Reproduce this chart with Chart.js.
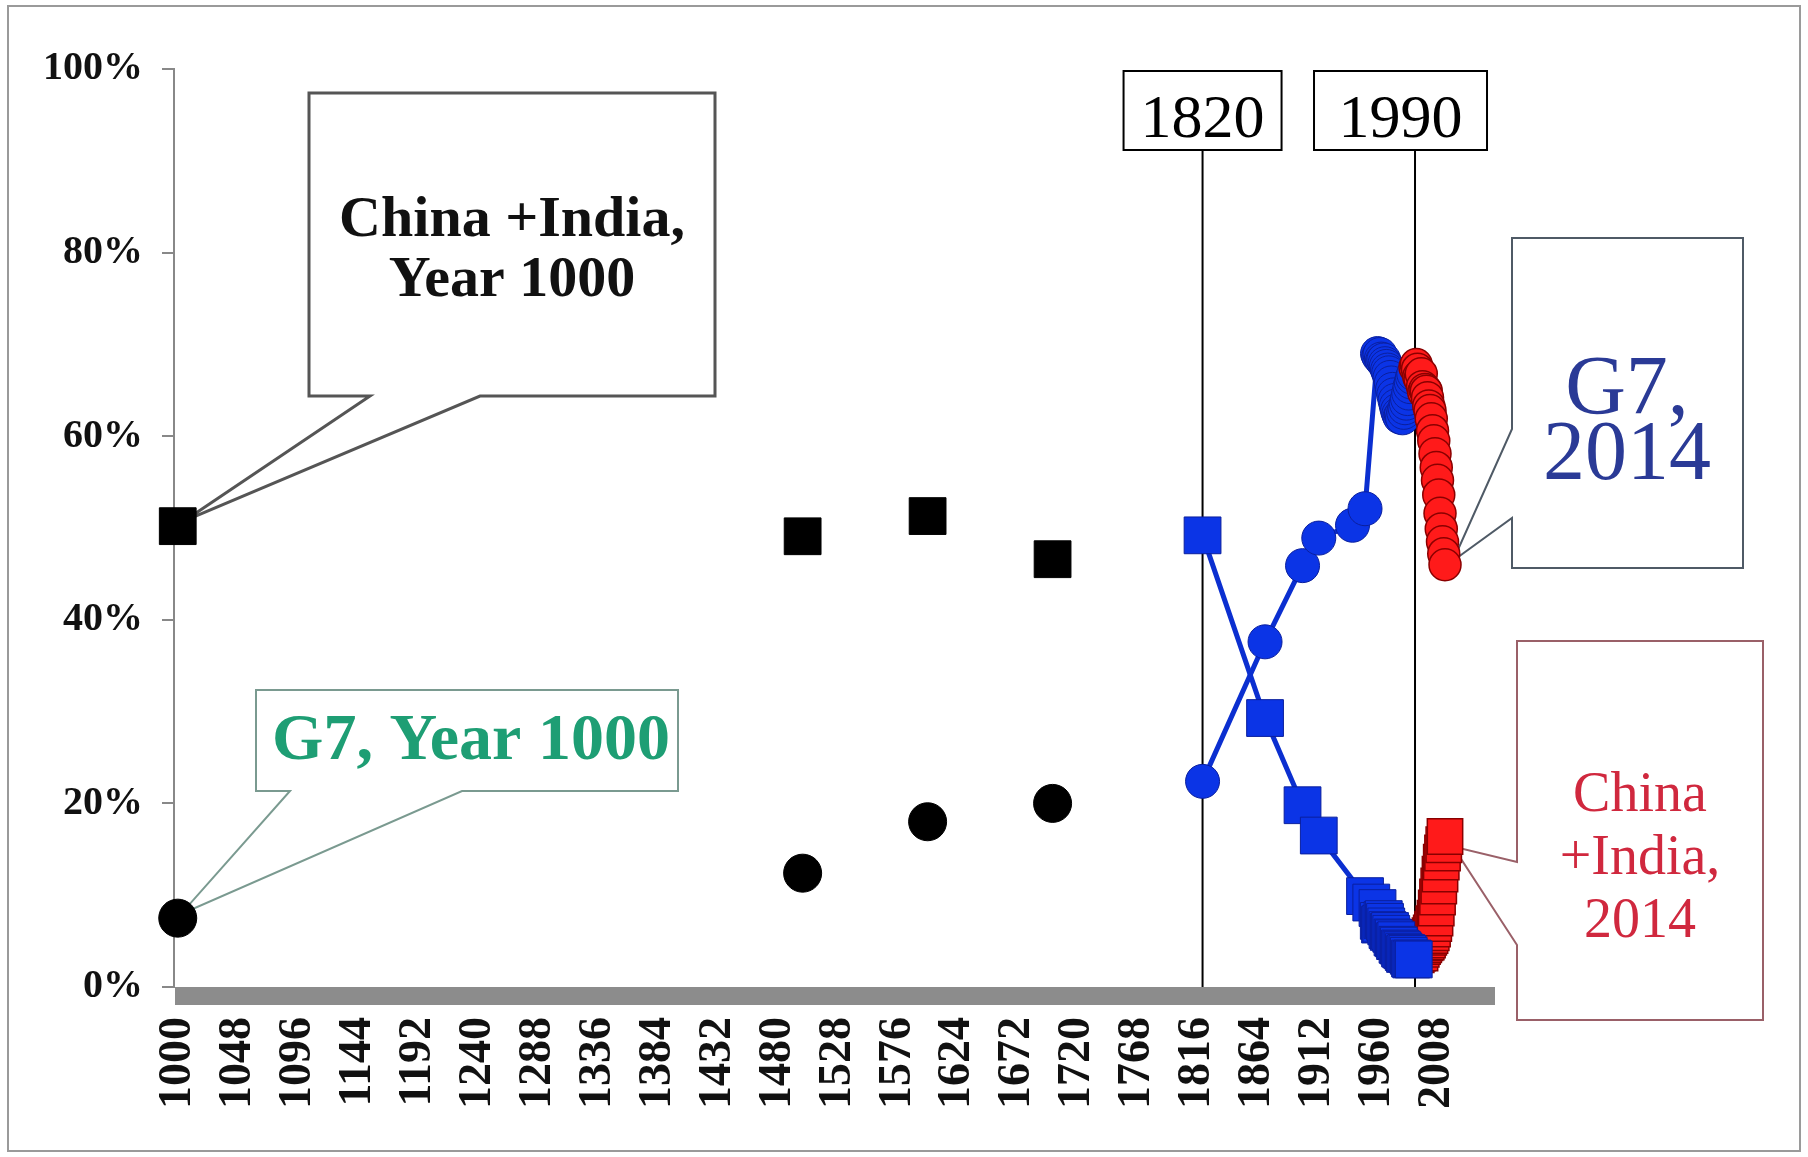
<!DOCTYPE html>
<html>
<head>
<meta charset="utf-8">
<title>G7 and China + India, share of world GDP, 1000-2014</title>
<script src="https://cdn.jsdelivr.net/npm/chart.js@4.4.1/dist/chart.umd.min.js"></script>
<style>
  html, body { margin: 0; padding: 0; background: #fff; overflow: hidden; }
  canvas { display: block; }
</style>
</head>
<body>
<canvas id="share-chart" width="1808" height="1157"></canvas>
<script>
// share of world GDP in %
const earlyYears = [1000, 1500, 1600, 1700];
const earlyChinaIndia = [50.2, 49.1, 51.3, 46.6];
const earlyG7 = [7.5, 12.4, 18.0, 20.0];

const midChinaIndiaYears = [1820, 1870, 1900, 1913, 1950, 1955,
  1960, 1961, 1962, 1963, 1964, 1965, 1966, 1967, 1968, 1969,
  1970, 1971, 1972, 1973, 1974, 1975, 1976, 1977, 1978, 1979,
  1980, 1981, 1982, 1983, 1984, 1985, 1986, 1987, 1988, 1989];
const midChinaIndia = [49.2, 29.3, 19.8, 16.5, 9.9, 9.2,
  8.6, 7.2, 6.8, 6.9, 7.3, 7.4, 7.1, 6.6, 6.2, 6.0,
  6.1, 5.8, 5.4, 5.3, 5.0, 5.1, 4.6, 4.5, 4.2, 4.1,
  4.0, 3.8, 3.6, 3.7, 3.6, 3.4, 3.1, 3.0, 3.1, 3.0];

const midG7Years = [1820, 1870, 1900, 1913, 1940, 1950,
  1960, 1961, 1962, 1963, 1964, 1965, 1966, 1967, 1968, 1969,
  1970, 1971, 1972, 1973, 1974, 1975, 1976, 1977, 1978, 1979,
  1980, 1981, 1982, 1983, 1984, 1985, 1986, 1987, 1988, 1989];
const midG7 = [22.4, 37.6, 45.9, 48.9, 50.3, 52.1,
  69.0, 68.7, 68.9, 68.4, 68.2, 68.3, 67.9, 67.6, 67.2, 66.9,
  66.4, 65.8, 65.1, 64.5, 63.9, 63.3, 62.8, 62.4, 62.1, 62.3,
  62.0, 62.6, 63.1, 63.6, 64.1, 64.7, 65.4, 65.9, 66.4, 66.8];

const lateYears = [1990, 1991, 1992, 1993, 1994, 1995, 1996, 1997, 1998, 1999,
  2000, 2001, 2002, 2003, 2004, 2005, 2006, 2007, 2008, 2009,
  2010, 2011, 2012, 2013, 2014];
const lateChinaIndia = [3.6, 3.5, 3.7, 4.0, 3.7, 4.1, 4.4, 4.6, 4.8, 4.9,
  5.1, 5.4, 5.6, 5.9, 6.3, 6.9, 7.5, 8.6, 9.8, 11.0,
  12.3, 13.6, 14.6, 15.5, 16.4];
const lateG7 = [67.5, 67.8, 67.3, 66.5, 66.2, 66.8, 65.4, 64.8, 65.1, 64.9,
  64.2, 63.3, 62.8, 61.9, 60.6, 59.5, 58.1, 56.6, 55.2, 53.6,
  51.6, 49.9, 48.5, 47.2, 46.0];

const xTickYears = [1000, 1048, 1096, 1144, 1192, 1240, 1288, 1336, 1384, 1432, 1480,
  1528, 1576, 1624, 1672, 1720, 1768, 1816, 1864, 1912, 1960, 2008];
const yTickValues = [0, 20, 40, 60, 80, 100];
const markerYears = [1820, 1990];

const SERIF = '"Liberation Serif", "Times New Roman", serif';

function points(years, values) {
  return years.map((yr, i) => ({ x: yr, y: values[i] }));
}

function callout(ctx, box, tail, tip, stroke, lw) {
  ctx.beginPath();
  ctx.moveTo(box.l, box.t);
  ctx.lineTo(box.r, box.t);
  ctx.lineTo(box.r, box.b);
  if (tail.side === 'bottom') {
    ctx.lineTo(tail.b, box.b);
    ctx.lineTo(tip.x, tip.y);
    ctx.lineTo(tail.a, box.b);
    ctx.lineTo(box.l, box.b);
  } else {
    ctx.lineTo(box.l, box.b);
    ctx.lineTo(box.l, tail.b);
    ctx.lineTo(tip.x, tip.y);
    ctx.lineTo(box.l, tail.a);
  }
  ctx.closePath();
  ctx.fillStyle = '#fff';
  ctx.fill();
  ctx.strokeStyle = stroke;
  ctx.lineWidth = lw;
  ctx.lineJoin = 'miter';
  ctx.stroke();
}

function lines(ctx, rows, cx, font, color) {
  ctx.font = font;
  ctx.fillStyle = color;
  ctx.textAlign = 'center';
  ctx.textBaseline = 'middle';
  rows.forEach(([txt, cy]) => ctx.fillText(txt, cx, cy));
}

const decorations = {
  id: 'decorations',
  beforeDraw(chart) {
    const ctx = chart.ctx;
    ctx.save();
    ctx.fillStyle = '#fff';
    ctx.fillRect(0, 0, chart.width, chart.height);
    ctx.strokeStyle = '#9a9a9a';
    ctx.lineWidth = 2;
    ctx.strokeRect(8, 6, chart.width - 16, chart.height - 12);
    ctx.restore();
  },
  beforeDatasetsDraw(chart) {
    const { ctx, chartArea: area, scales: { x, y } } = chart;
    ctx.save();

    // thick grey axis bar under 0%
    ctx.fillStyle = '#8c8c8c';
    ctx.fillRect(area.left + 1, area.bottom, area.right - area.left - 1, 18);

    // 1820 / 1990 marker lines with boxed labels
    const boxOffsets = [[-79, 158], [-101, 173]];
    markerYears.forEach((yr, i) => {
      const px = x.getPixelForValue(yr);
      ctx.strokeStyle = '#000';
      ctx.lineWidth = 2;
      ctx.beginPath();
      ctx.moveTo(px, 150);
      ctx.lineTo(px, area.bottom);
      ctx.stroke();
      const [off, w] = boxOffsets[i];
      ctx.fillStyle = '#fff';
      ctx.fillRect(px + off, 71, w, 79);
      ctx.strokeRect(px + off, 71, w, 79);
      lines(ctx, [[String(yr), 121]], px + off + w / 2, '62px ' + SERIF, '#000');
    });

    // callouts, tips pointing at the data points
    const ci1000 = { x: x.getPixelForValue(earlyYears[0]) + 6, y: y.getPixelForValue(earlyChinaIndia[0]) - 5 };
    callout(ctx, { l: 309, t: 93, r: 715, b: 396 }, { side: 'bottom', a: 370, b: 480 }, ci1000, '#555', 3);
    lines(ctx, [['China +India,', 221], ['Year 1000', 281]], 512, 'bold 58px ' + SERIF, '#111');

    const g71000 = { x: x.getPixelForValue(earlyYears[0]) + 3, y: y.getPixelForValue(earlyG7[0]) - 4 };
    callout(ctx, { l: 256, t: 690, r: 678, b: 791 }, { side: 'bottom', a: 290, b: 462 }, g71000, '#7a9a90', 2);
    lines(ctx, [['G7, Year 1000', 742]], 471, 'bold 66px ' + SERIF, '#1e9e74');

    const last = lateYears.length - 1;
    const g72014 = { x: x.getPixelForValue(lateYears[last]) + 8, y: y.getPixelForValue(lateG7[last]) - 4 };
    callout(ctx, { l: 1512, t: 238, r: 1743, b: 568 }, { side: 'left', a: 429, b: 518 }, g72014, '#4f5a66', 2);
    lines(ctx, [['G7,', 392], ['2014', 457]], 1627, '84px ' + SERIF, '#2a3a96');

    const ci2014 = { x: x.getPixelForValue(lateYears[last]) + 8, y: y.getPixelForValue(lateChinaIndia[last]) + 10 };
    callout(ctx, { l: 1517, t: 641, r: 1763, b: 1020 }, { side: 'left', a: 862, b: 945 }, ci2014, '#9a6068', 2);
    lines(ctx, [['China', 796], ['+India,', 859], ['2014', 922]], 1640, '56px ' + SERIF, '#d0283e');

    ctx.restore();
  }
};

new Chart(document.getElementById('share-chart'), {
  type: 'line',
  data: {
    datasets: [
      {
        label: 'G7, 1990-2014',
        data: points(lateYears, lateG7),
        order: 1,
        borderColor: '#e00000',
        borderWidth: 3,
        pointStyle: 'circle',
        pointRadius: 16,
        pointBackgroundColor: '#ff1a1a',
        pointBorderColor: '#8a0000',
        pointBorderWidth: 1.5,
        clip: false
      },
      {
        label: 'G7, 1820-1989',
        data: points(midG7Years, midG7),
        order: 2,
        borderColor: '#0b2fd0',
        borderWidth: 5,
        pointStyle: 'circle',
        pointRadius: 17,
        pointBackgroundColor: '#0b34e6',
        pointBorderColor: '#0a1f9e',
        pointBorderWidth: 1,
        clip: false
      },
      {
        label: 'China + India, 1820-1989',
        data: points(midChinaIndiaYears, midChinaIndia),
        order: 3,
        borderColor: '#0b2fd0',
        borderWidth: 5,
        pointStyle: 'rect',
        pointRadius: 26,
        pointBackgroundColor: '#0b34e6',
        pointBorderColor: '#0a1f9e',
        pointBorderWidth: 1,
        clip: false
      },
      {
        label: 'China + India, 1990-2014',
        data: points(lateYears, lateChinaIndia),
        order: 4,
        borderColor: '#e00000',
        borderWidth: 3,
        pointStyle: 'rect',
        pointRadius: 25,
        pointBackgroundColor: '#ff1a1a',
        pointBorderColor: '#8a0000',
        pointBorderWidth: 1.5,
        clip: false
      },
      {
        label: 'China + India, 1000-1700',
        data: points(earlyYears, earlyChinaIndia),
        order: 5,
        showLine: false,
        pointStyle: 'rect',
        pointRadius: 26,
        pointBackgroundColor: '#000',
        pointBorderColor: '#000',
        pointBorderWidth: 1,
        clip: false
      },
      {
        label: 'G7, 1000-1700',
        data: points(earlyYears, earlyG7),
        order: 6,
        showLine: false,
        pointStyle: 'circle',
        pointRadius: 19,
        pointBackgroundColor: '#000',
        pointBorderColor: '#000',
        pointBorderWidth: 1,
        clip: false
      }
    ]
  },
  options: {
    responsive: false,
    animation: false,
    events: [],
    layout: { padding: { left: 0, right: 313, top: 69, bottom: 0 } },
    plugins: {
      legend: { display: false },
      tooltip: { enabled: false }
    },
    scales: {
      x: {
        type: 'linear',
        min: 997,
        max: 2054,
        afterBuildTicks: s => { s.ticks = xTickYears.map(v => ({ value: v })); },
        afterFit: s => { s.height = 170; },
        ticks: {
          autoSkip: false,
          minRotation: 90,
          maxRotation: 90,
          padding: 30,
          color: '#111',
          font: { family: SERIF, size: 46, weight: 'bold' },
          callback: v => String(v)
        },
        grid: { display: false, drawTicks: false },
        border: { display: false }
      },
      y: {
        type: 'linear',
        min: 0,
        max: 100,
        afterBuildTicks: s => { s.ticks = yTickValues.map(v => ({ value: v })); },
        afterFit: s => { s.width = 174; },
        ticks: {
          padding: 19,
          color: '#111',
          font: { family: SERIF, size: 40, weight: 'bold' },
          callback: v => v + '%'
        },
        grid: { drawOnChartArea: false, tickLength: 12, color: '#888', lineWidth: 2 },
        border: { color: '#888', width: 2 }
      }
    }
  },
  plugins: [decorations]
});
</script>
</body>
</html>
